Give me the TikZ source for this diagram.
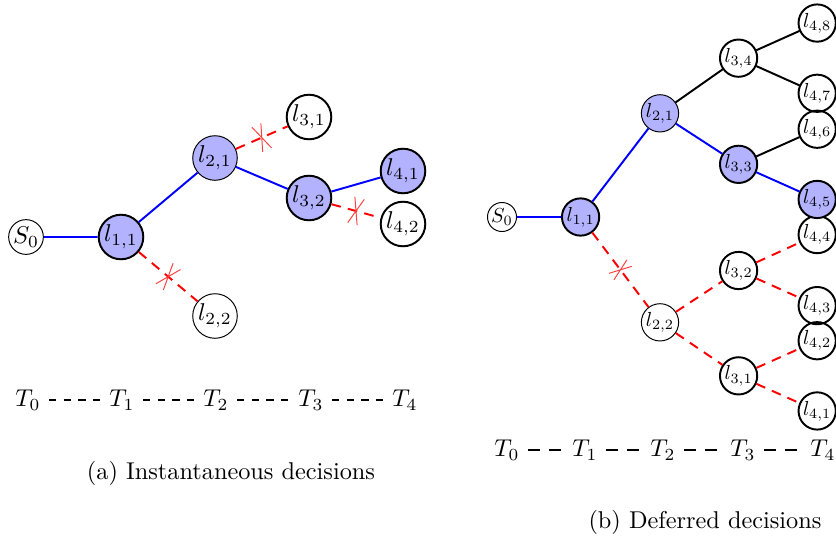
\documentclass[tikz,border=0pt]{standalone}
\usepackage{amsmath,amssymb}
\usepackage{xcolor}
\usepackage{tikz}
\usetikzlibrary{shapes.misc}

\begin{document}
\begin{tikzpicture}[x=0.4115pt, y=-0.4115pt,
  state/.style={draw, circle, thick, inner sep=0.5pt, minimum size=17.6pt},
  rootnode/.style={draw, circle, thin, inner sep=0.3pt, minimum size=13.5pt},
  chosen/.style={fill=blue!30},
  best/.style={blue, thick},
  kept/.style={black, thick},
  pruned/.style={red, thick, dash pattern=on 4pt off 3pt},
  cutmark/.style={cross out, draw=red!75, solid, thin, minimum width=4pt, minimum height=11pt, inner sep=0pt, outer sep=0pt, sloped, pos=0.5},
  timeline/.style={thick, dashed}]
  \useasboundingbox (0,0) rectangle (836,540);

  % (a) instantaneous
  \begin{scope}[shift={(26,237)}, name prefix=a-]
    \node[rootnode] (s0) at (0,0) {$S_0$};
    \node[state, chosen] (l11) at (95,0) {$l_{1,1}$};
    \node[state, chosen, thin] (l21) at (189,-79) {$l_{2,1}$};
    \node[state, thin] (l22) at (189,79) {$l_{2,2}$};
    \node[state] (l31) at (283,-120) {$l_{3,1}$};
    \node[state, chosen] (l32) at (283,-39) {$l_{3,2}$};
    \node[state, chosen] (l41) at (377,-66) {$l_{4,1}$};
    \node[state] (l42) at (377,-13) {$l_{4,2}$};

    \draw[best] (s0) -- (l11) -- (l21) -- (l32) -- (l41);
    \draw[pruned] (l11) -- node[cutmark]{} (l22);
    \draw[pruned] (l21) -- node[cutmark]{} (l31);
    \draw[pruned] (l32) -- node[cutmark]{} (l42);

    \foreach \i/\x in {0/2,1/96,2/190,3/285,4/379}
      \node (t\i) at (\x,163) {$T_{\i}$};
    \foreach \i/\j in {0/1,1/2,2/3,3/4}
      \draw[timeline] (t\i) -- (t\j);

    \node (cap) at (205,236) {(a) Instantaneous decisions};
  \end{scope}

  % (b) deferred
  \begin{scope}[shift={(502,217)}, scale=0.836, transform shape, name prefix=b-]
    \node[rootnode] (s0) at (0,0) {$S_0$};
    \node[state, chosen] (l11) at (94,0) {$l_{1,1}$};
    \node[state, chosen, thin] (l21) at (189,-124) {$l_{2,1}$};
    \node[state, thin] (l22) at (189,126) {$l_{2,2}$};
    \node[state] (l34) at (283,-190) {$l_{3,4}$};
    \node[state, chosen] (l33) at (283,-63) {$l_{3,3}$};
    \node[state] (l32) at (283,64) {$l_{3,2}$};
    \node[state] (l31) at (283,190) {$l_{3,1}$};
    \foreach \k/\y in {8/-232,7/-148,6/-105,4/21,3/106,2/148,1/232}
      \node[state] (l4\k) at (377,\y) {$l_{4,\k}$};
    \node[state, chosen] (l45) at (377,-21) {$l_{4,5}$};

    \draw[best] (s0) -- (l11) -- (l21) -- (l33) -- (l45);
    \draw[kept] (l21) -- (l34) (l34) -- (l48) (l34) -- (l47) (l33) -- (l46);
    \draw[pruned] (l11) -- node[cutmark]{} (l22);
    \draw[pruned] (l22) -- (l32) (l22) -- (l31)
      (l32) -- (l44) (l32) -- (l43) (l31) -- (l42) (l31) -- (l41);
  \end{scope}
  \begin{scope}[shift={(502,450)}, name prefix=b-]
    \foreach \i/\x in {0/5,1/83,2/161,3/241,4/321}
      \node (t\i) at (\x,0) {$T_{\i}$};
    \foreach \i/\j in {0/1,1/2,2/3,3/4}
      \draw[thick, dash pattern=on 5pt off 3.5pt] (t\i) -- (t\j);
  \end{scope}
  \node (capb) at (705,522) {(b) Deferred decisions};
\end{tikzpicture}
\end{document}
